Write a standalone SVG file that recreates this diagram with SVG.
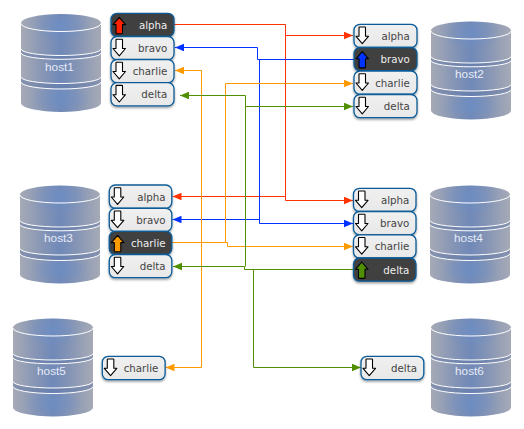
<svg xmlns="http://www.w3.org/2000/svg" width="524" height="429" viewBox="0 0 524 429">
<style>
.p{fill:url(#pg);stroke:#0b5c99;stroke-width:1.3;filter:url(#sh)}
.d{fill:#404040}
.t{font:10.25px "DejaVu Sans",sans-serif;fill:#444;text-anchor:end}
.l{fill:#eee}
.h{font:11.8px "Liberation Sans",Arial,sans-serif;fill:#e6ebf6;text-anchor:middle}
.c{fill:none;stroke-width:1}
.ic{stroke:#000;stroke-width:1.1;stroke-linejoin:round}
</style>
<defs>
<linearGradient id="pg" x1="0" y1="0" x2="0" y2="1"><stop offset="0" stop-color="#f0f0f0"/><stop offset="1" stop-color="#e8e8e8"/></linearGradient>
<linearGradient id="cg" x1="0" y1="0" x2="1" y2="0"><stop offset="0" stop-color="#a6aab6"/><stop offset=".3" stop-color="#8494b5"/><stop offset=".5" stop-color="#7089b8"/><stop offset=".7" stop-color="#8494b5"/><stop offset="1" stop-color="#a6aab6"/></linearGradient>
<radialGradient id="gl"><stop offset="0" stop-color="#6d8fc6" stop-opacity=".7"/><stop offset="1" stop-color="#6d8fc6" stop-opacity="0"/></radialGradient>
<clipPath id="cc"><path d="M0,9A40,9 0 0 1 80,9V89A40,9 0 0 1 0,89Z"/></clipPath>
<filter id="sh" x="-10%" y="-10%" width="120%" height="130%"><feDropShadow dx="0" dy="1.5" stdDeviation="1" flood-color="#000" flood-opacity=".4"/></filter>
<g id="cyl">
<path d="M0,9A40,9 0 0 1 80,9V89A40,9 0 0 1 0,89Z" fill="url(#cg)"/>
<g clip-path="url(#cc)">
<ellipse cx="40" cy="12" rx="28" ry="18" fill="url(#gl)"/>
<ellipse cx="40" cy="84" rx="28" ry="14" fill="url(#gl)"/>
</g>
<path d="M0,35A40,6.500 0 0 0 80,35V39A40,6.300 0 0 1 0,39Z" fill="#5f76a3" opacity=".45"/>
<path d="M0,63A40,6.500 0 0 0 80,63V68A40,7 0 0 1 0,68Z" fill="#5f76a3" opacity=".45"/>
<path d="M0,9.500A40,8 0 0 0 80,9.500M0,35A40,6.500 0 0 0 80,35M0,39A40,6.300 0 0 0 80,39M0,63A40,6.500 0 0 0 80,63M0,68A40,7 0 0 0 80,68" fill="none" stroke="#fff" stroke-width="1"/>
</g>
<path id="dn" class="ic" fill="#fff" d="M5,3.300Q5,2.700 5.600,2.700H10.900Q11.500,2.700 11.500,3.300V12H14.500L8.250,19.300L2,12H5Z"/>
<path id="up" class="ic" d="M8.250,4L14.500,11.300H11.500V19.800Q11.500,20.400 10.900,20.400H5.600Q5,20.400 5,19.800V11.300H2Z"/>
<marker id="mr" markerUnits="userSpaceOnUse" markerWidth="10" markerHeight="8" refX="9" refY="3.800" orient="auto"><path d="M0,0L9,3.800L0,7.600Z" fill="#ff3300"/></marker>
<marker id="mb" markerUnits="userSpaceOnUse" markerWidth="10" markerHeight="8" refX="9" refY="3.800" orient="auto"><path d="M0,0L9,3.800L0,7.600Z" fill="#0033ff"/></marker>
<marker id="mo" markerUnits="userSpaceOnUse" markerWidth="10" markerHeight="8" refX="9" refY="3.800" orient="auto"><path d="M0,0L9,3.800L0,7.600Z" fill="#ff9900"/></marker>
<marker id="mg" markerUnits="userSpaceOnUse" markerWidth="10" markerHeight="8" refX="9" refY="3.800" orient="auto"><path d="M0,0L9,3.800L0,7.600Z" fill="#4f8f00"/></marker>
</defs>

<g id="connectors">
<g stroke="#ff3300" class="c"><path d="M174,24.500H285.500V200.500H353" marker-end="url(#mr)"/><path d="M285.500,35.500H353" marker-end="url(#mr)"/><path d="M285.500,196.500H172.500" marker-end="url(#mr)"/></g>
<g stroke="#0033ff" class="c"><path d="M354,59.500H257.500V47.500H175" marker-end="url(#mb)"/><path d="M259.500,59.500V223.500H353" marker-end="url(#mb)"/><path d="M259.500,219.500H172.500" marker-end="url(#mb)"/></g>
<g stroke="#ff9900" class="c"><path d="M172,242.500H227.500V246.500H353" marker-end="url(#mo)"/><path d="M225.500,242.500V83.500H353" marker-end="url(#mo)"/><path d="M201.500,242.500V70.500H175" marker-end="url(#mo)"/><path d="M201.500,242.500V367.500H165.500" marker-end="url(#mo)"/></g>
<g stroke="#4f8f00" class="c"><path d="M353,269.500H244.500V266.500H173" marker-end="url(#mg)"/><path d="M245.500,266.500V95.500H180" marker-end="url(#mg)"/><path d="M245.500,106.500H353" marker-end="url(#mg)"/><path d="M253.500,269.500V367.500H361" marker-end="url(#mg)"/></g>
</g>

<g id="host1" transform="translate(21,14)"><use href="#cyl"/><text class="h" x="38.500" y="56.700">host1</text></g>
<g id="host2" transform="translate(431,21.500)"><use href="#cyl"/><text class="h" x="38.500" y="56.700">host2</text></g>
<g id="host3" transform="translate(20,185.500)"><use href="#cyl"/><text class="h" x="38.500" y="56.700">host3</text></g>
<g id="host4" transform="translate(430,185.500)"><use href="#cyl"/><text class="h" x="38.500" y="56.700">host4</text></g>
<g id="host5" transform="translate(13,318.500)"><use href="#cyl"/><text class="h" x="38.500" y="56.700">host5</text></g>
<g id="host6" transform="translate(431,318.500)"><use href="#cyl"/><text class="h" x="38.500" y="56.700">host6</text></g>

<g id="host1-alpha" transform="translate(111,13.300)"><rect class="p d" width="63" height="23.200" rx="6"/><use href="#up" fill="#ff2200"/><text class="t l" x="56.300" y="15.700">alpha</text></g>
<g id="host1-bravo" transform="translate(111,36.500)"><rect class="p" width="63" height="23.200" rx="6"/><use href="#dn"/><text class="t" x="56.300" y="15.700">bravo</text></g>
<g id="host1-charlie" transform="translate(111,59.500)"><rect class="p" width="63" height="23.200" rx="6"/><use href="#dn"/><text class="t" x="56.300" y="15.700">charlie</text></g>
<g id="host1-delta" transform="translate(111,82.700)"><rect class="p" width="63" height="23.200" rx="6"/><use href="#dn"/><text class="t" x="56.300" y="15.700">delta</text></g>

<g id="host2-alpha" transform="translate(354,24.300)"><rect class="p" width="63" height="23.200" rx="6"/><use href="#dn"/><text class="t" x="55.800" y="15.700">alpha</text></g>
<g id="host2-bravo" transform="translate(354,47.500)"><rect class="p d" width="63" height="23.200" rx="6"/><use href="#up" fill="#0033ff"/><text class="t l" x="55.800" y="15.700">bravo</text></g>
<g id="host2-charlie" transform="translate(354,71)"><rect class="p" width="63" height="23.200" rx="6"/><use href="#dn"/><text class="t" x="55.800" y="15.700">charlie</text></g>
<g id="host2-delta" transform="translate(354,94.500)"><rect class="p" width="63" height="23.200" rx="6"/><use href="#dn"/><text class="t" x="55.800" y="15.700">delta</text></g>

<g id="host3-alpha" transform="translate(109.300,185)"><rect class="p" width="62.500" height="23.200" rx="6"/><use href="#dn"/><text class="t" x="56.300" y="15.700">alpha</text></g>
<g id="host3-bravo" transform="translate(109.300,208.300)"><rect class="p" width="62.500" height="23.200" rx="6"/><use href="#dn"/><text class="t" x="56.300" y="15.700">bravo</text></g>
<g id="host3-charlie" transform="translate(109.300,231.300)"><rect class="p d" width="62.500" height="23.200" rx="6"/><use href="#up" fill="#ff9900"/><text class="t l" x="56.300" y="15.700">charlie</text></g>
<g id="host3-delta" transform="translate(109.300,254.500)"><rect class="p" width="62.500" height="23.200" rx="6"/><use href="#dn"/><text class="t" x="56.300" y="15.700">delta</text></g>

<g id="host4-alpha" transform="translate(353.500,188.300)"><rect class="p" width="62.500" height="23.200" rx="6"/><use href="#dn"/><text class="t" x="55.800" y="15.700">alpha</text></g>
<g id="host4-bravo" transform="translate(353.500,211.500)"><rect class="p" width="62.500" height="23.200" rx="6"/><use href="#dn"/><text class="t" x="55.800" y="15.700">bravo</text></g>
<g id="host4-charlie" transform="translate(353.500,234.800)"><rect class="p" width="62.500" height="23.200" rx="6"/><use href="#dn"/><text class="t" x="55.800" y="15.700">charlie</text></g>
<g id="host4-delta" transform="translate(353.500,258)"><rect class="p d" width="62.500" height="23.200" rx="6"/><use href="#up" fill="#4f8f00"/><text class="t l" x="55.800" y="15.700">delta</text></g>

<g id="host5-charlie" transform="translate(102.300,356.300)"><rect class="p" width="62.800" height="23.400" rx="6"/><use href="#dn"/><text class="t" x="56" y="15.700">charlie</text></g>
<g id="host6-delta" transform="translate(361,356.300)"><rect class="p" width="62.800" height="23.400" rx="6"/><use href="#dn"/><text class="t" x="56" y="15.700">delta</text></g>
</svg>
